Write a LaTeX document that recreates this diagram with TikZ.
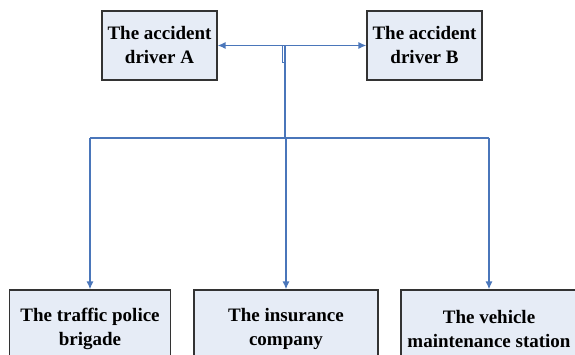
\documentclass[tikz,border=0pt]{standalone}
\usepackage{fontspec}
\setmainfont{Liberation Serif}
\usepackage{tikz}
\usetikzlibrary{arrows.meta}
\definecolor{BoxFill}{RGB}{230,236,246}
\definecolor{LinkBlue}{RGB}{74,118,186}

\begin{document}
\begin{tikzpicture}[x=1pt, y=-1pt, font=\fontsize{19}{24}\selectfont\bfseries,
		box/.style={draw=black!80, fill=BoxFill, line width=1.1pt, align=center, inner sep=0pt},
		link/.style={draw=LinkBlue, line width=1.5pt},
		tip/.style={-{Latex[length=8pt,width=7pt]}}]
		\useasboundingbox (0,0) rectangle (575,355);
		\clip (0,0) rectangle (575,355);
		% drivers
		\node[box, minimum width=115pt, minimum height=69pt] (drvA) at (159.5,45.5) {The accident\\driver A};
		\node[box, minimum width=115pt, minimum height=69pt] (drvB) at (424.5,45.5) {The accident\\driver B};
		% parties below
		\node[box, minimum width=161pt, minimum height=78pt] (police) at (90,329) {The traffic police\\brigade};
		\node[box, minimum width=184pt, minimum height=78pt] (insur) at (286,329) {The insurance\\company};
		\node[box, minimum width=176pt, minimum height=78pt] (repair) at (489,329) {The vehicle\\maintenance station};
		% links
		\coordinate (hub) at (285,45.5);
		\coordinate (fork) at (285,138);
		\draw[link, {Latex[length=8pt,width=7pt]}-{Latex[length=8pt,width=7pt]}] (drvA.east) -- (drvB.west);
		\draw[LinkBlue, line width=0.6pt] (hub) ++(-3,0) -- ++(0,17) -- ++(3,0);
		\draw[link] (hub) -- (fork);
		\draw[link] (police.north |- fork) -- (repair.north |- fork);
		\draw[link, tip] (police.north |- fork) -- (police.north);
		\draw[link, tip] (insur.north |- fork) -- (insur.north);
		\draw[link, tip] (repair.north |- fork) -- (repair.north);
	\end{tikzpicture}
\end{document}
